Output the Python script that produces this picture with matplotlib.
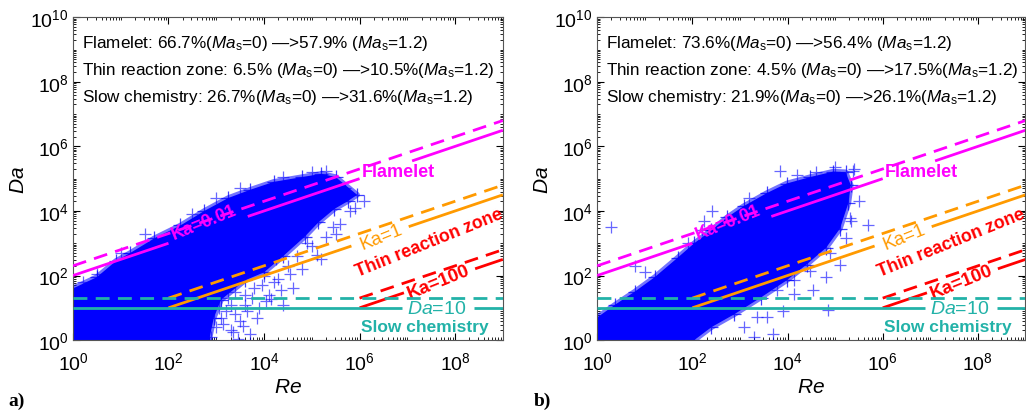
import numpy as np
import matplotlib
matplotlib.use('Agg')
import matplotlib.pyplot as plt
from matplotlib.ticker import LogLocator, FixedLocator, LogFormatterSciNotation, NullFormatter

plt.rcParams['font.family'] = ['Liberation Sans', 'DejaVu Sans']
plt.rcParams['mathtext.fontset'] = 'custom'
plt.rcParams['mathtext.rm'] = 'Liberation Sans'
plt.rcParams['mathtext.it'] = 'Liberation Sans:italic'
plt.rcParams['mathtext.bf'] = 'Liberation Sans:bold'

MAGENTA = '#ff00ff'
ORANGE = '#ff9a00'
RED = '#ff0000'
TEAL = '#22b2a8'
BLUE = '#0000ff'

# ---- dense part of the Re-Da cloud (log10 Re, log10 Da)
cloud_a_logre = [0, 0, 0.5, 0.9, 1.2, 1.7, 2.25, 2.75, 3.25, 3.7, 4.2, 4.8, 5.2, 5.5, 5.95,
                 5.75, 5.47, 5.14, 4.85, 4.4, 4.0, 3.6, 3.1, 2.95, 2.85]
cloud_a_logda = [0, 1.6, 1.95, 2.45, 2.7, 3.15, 3.55, 4.0, 4.4, 4.65, 4.9, 5.05, 5.15, 5.05, 4.5,
                 4.3, 4.06, 3.65, 3.2, 2.6, 2.1, 1.85, 1.25, 0.7, 0]
cloud_b_logre = [0, 0, 0.38, 0.79, 1.21, 1.69, 2.04, 2.4, 2.73, 3.08, 3.56, 3.98, 4.48, 4.96, 5.22,
                 5.33, 5.28, 5.1, 4.81, 4.4, 3.98, 3.44, 2.88, 2.4, 2.04]
cloud_b_logda = [0, 0.7, 1.1, 1.5, 1.95, 2.55, 3.0, 3.4, 3.8, 4.15, 4.55, 4.85, 5.05, 5.22, 5.2,
                 4.8, 4.25, 3.45, 2.86, 2.34, 1.85, 1.32, 0.8, 0.4, 0]

# ---- scattered samples outside the dense part
out_a_logre = [3.3, 3.5, 3.7, 3.2, 3.9, 4.1, 3.8, 4.3, 4.5, 4.7, 5.0, 5.3, 5.6, 5.9, 6.1,
               3.4, 3.0, 2.9, 4.6, 4.4, 3.6, 5.2, 4.0, 3.3, 2.8, 1.5, 2.5, 3.0, 3.5, 4.4,
               5.0, 5.3, 1.0, 0.5, 0.2, 4.15, 3.45, 5.7, 3.1, 3.6, 4.25, 4.9, 5.45, 5.8,
               3.15, 3.25, 3.4, 3.55, 3.75, 3.95, 4.2, 3.05, 3.35, 3.85, 4.05, 4.35,
               4.8, 5.1, 5.5, 4.55, 3.65, 3.1]
out_a_logda = [0.3, 0.6, 0.2, 0.9, 1.0, 1.4, 1.6, 1.9, 2.3, 2.6, 2.9, 3.2, 3.6, 4.1, 4.3,
               1.5, 0.4, 0.1, 1.6, 1.1, 1.1, 2.5, 2.0, 1.1, 1.2, 3.3, 3.9, 4.4, 4.7, 5.05,
               5.2, 5.25, 2.7, 2.05, 1.8, 1.27, 0.05, 4.7, 0.7, 1.4, 2.5, 3.0, 3.5, 4.0,
               0.5, 1.3, 0.8, 0.45, 1.3, 1.7, 1.8, 1.0, 0.25, 0.7, 1.2, 1.55,
               2.2, 2.65, 3.3, 2.05, 0.9, 1.55]
out_b_logre = [0.3, 0.79, 2.25, 2.42, 3.85, 5.38, 3.56, 3.35, 3.7, 3.08, 4.13, 4.54, 4.81, 5.1,
               5.23, 5.31, 4.48, 4.13, 3.77, 2.94, 2.6, 1.69, 1.56, 3.29, 5.69, 5.33, 4.85,
               4.2, 5.0, 5.4, 3.9, 2.0, 1.2, 4.0, 4.9, 5.5, 3.0, 1.0, 1.9, 2.2, 3.2, 4.6]
out_b_logda = [3.5, 2.3, 3.7, 4.0, 5.23, 5.23, 0.71, 0.71, 0.18, 0.4, 1.42, 1.54, 1.94, 2.34,
               3.17, 3.78, 2.15, 1.85, 1.54, 1.32, 1.63, 0.71, 0.18, 0.09, 3.57, 3.69, 0.92,
               5.1, 5.35, 5.3, 0.9, 0.4, 0.3, 2.6, 2.7, 4.3, 2.2, 2.1, 3.0, 3.4, 4.4, 5.2]

# ---- regime lines: segments (Re, Da) as drawn, gaps left for the labels
ka001_solid = [([1, 1e2], [1e2, 1e3]), ([4.57e3, 1e6], [6.76e3, 1e5]), ([1.26e7, 1e9], [3.55e5, 3.16e6])]
ka001_dash = [([1, 1e9], [2e2, 6.32e6])]
ka1_solid = [([1e2, 6.76e5], [10, 822]), ([1.07e7, 1e9], [3.27e3, 3.16e4])]
ka1_dash = [([1e2, 1e9], [20, 6.32e4])]
ka100_solid = [([1e6, 8.5e6], [10, 29.2]), ([2.63e8, 1e9], [162, 316])]
ka100_dash = [([1e6, 1e9], [20, 632])]
da10_solid = [([1, 7.6e6], [10, 10]), ([2.5e8, 1e9], [10, 10])]
da20_dash = [([1, 1e9], [20, 20])]

texts_a = ['Flamelet: 66.7%($\\mathit{Ma}_\\mathrm{s}$=0) \u2014>57.9% ($\\mathit{Ma}_\\mathrm{s}$=1.2)',
           'Thin reaction zone: 6.5% ($\\mathit{Ma}_\\mathrm{s}$=0) \u2014>10.5%($\\mathit{Ma}_\\mathrm{s}$=1.2)',
           'Slow chemistry: 26.7%($\\mathit{Ma}_\\mathrm{s}$=0) \u2014>31.6%($\\mathit{Ma}_\\mathrm{s}$=1.2)']
texts_b = ['Flamelet: 73.6%($\\mathit{Ma}_\\mathrm{s}$=0) \u2014>56.4% ($\\mathit{Ma}_\\mathrm{s}$=1.2)',
           'Thin reaction zone: 4.5% ($\\mathit{Ma}_\\mathrm{s}$=0) \u2014>17.5%($\\mathit{Ma}_\\mathrm{s}$=1.2)',
           'Slow chemistry: 21.9%($\\mathit{Ma}_\\mathrm{s}$=0) \u2014>26.1%($\\mathit{Ma}_\\mathrm{s}$=1.2)']


def draw_lines(ax, segs, color, ls):
    for re, da in segs:
        ax.plot(re, da, color=color, lw=2.0, ls=ls, dashes=(5, 3) if ls == '--' else (None, None),
                zorder=4 if ls == '-' else 5, solid_capstyle='butt')


def panel(ax, c_re, c_da, o_re, o_da, texts):
    c_re = 10.0 ** np.array(c_re)
    c_da = 10.0 ** np.array(c_da)
    o_re = 10.0 ** np.array(o_re)
    o_da = 10.0 ** np.array(o_da)
    # solid core, a thin soft fringe around it, then the crosses
    ax.fill(c_re, c_da, color=BLUE, lw=0, zorder=2)
    ax.fill(c_re, c_da, fill=False, edgecolor=BLUE, lw=4, alpha=0.55, joinstyle='round', zorder=2)
    ax.plot(c_re, c_da, '+', color=BLUE, ms=10, mew=0.9, alpha=0.75, zorder=2)
    ax.plot(o_re, o_da, '+', color=BLUE, ms=9, mew=0.9, alpha=0.6, zorder=2)

    draw_lines(ax, ka001_solid, MAGENTA, '-')
    draw_lines(ax, ka001_dash, MAGENTA, '--')
    draw_lines(ax, ka1_solid, ORANGE, '-')
    draw_lines(ax, ka1_dash, ORANGE, '--')
    draw_lines(ax, ka100_solid, RED, '-')
    draw_lines(ax, ka100_dash, RED, '--')
    draw_lines(ax, da10_solid, TEAL, '-')
    draw_lines(ax, da20_dash, TEAL, '--')

    ax.text(10**2.74, 10**3.65, 'Ka=0.01', color=MAGENTA, fontsize=13, fontweight='bold',
            rotation=22, ha='center', va='center', zorder=4.5)
    ax.text(10**6.05, 10**5.23, 'Flamelet', color=MAGENTA, fontsize=13, fontweight='bold',
            ha='left', va='center', zorder=4.5)
    ax.text(10**6.46, 10**3.22, 'Ka=1', color=ORANGE, fontsize=13.5,
            rotation=22, ha='center', va='center', zorder=4.5)
    ax.text(10**7.45, 10**3.03, 'Thin reaction zone', color=RED, fontsize=12.8, fontweight='bold',
            rotation=22, ha='center', va='center', zorder=4.5)
    ax.text(10**7.66, 10**1.83, 'Ka=100', color=RED, fontsize=13.5, fontweight='bold',
            rotation=22, ha='center', va='center', zorder=4.5)
    ax.text(10**7.62, 10**0.98, '$\\mathit{Da}$=10', color=TEAL, fontsize=14,
            ha='center', va='center', zorder=4.5)
    ax.text(10**7.37, 10**0.43, 'Slow chemistry', color=TEAL, fontsize=12.5, fontweight='bold',
            ha='center', va='center', zorder=4.5)

    for i, t in enumerate(texts):
        ax.text(0.021, 0.923 - i * 0.084, t, transform=ax.transAxes, fontsize=12.3,
                ha='left', va='center', zorder=6)

    ax.set_xscale('log')
    ax.set_yscale('log')
    ax.set_xlim(1, 1e9)
    ax.set_ylim(1, 1e10)
    ax.xaxis.set_major_locator(FixedLocator([1, 1e2, 1e4, 1e6, 1e8]))
    ax.yaxis.set_major_locator(FixedLocator([1, 1e2, 1e4, 1e6, 1e8, 1e10]))
    for axis in (ax.xaxis, ax.yaxis):
        axis.set_major_formatter(LogFormatterSciNotation())
        axis.set_minor_locator(LogLocator(base=10, subs=np.arange(1, 10), numticks=30))
        axis.set_minor_formatter(NullFormatter())
    ax.tick_params(which='both', direction='in', top=True, right=True, labelsize=14)
    ax.tick_params(axis='x', pad=8)
    ax.tick_params(axis='y', pad=3)
    ax.tick_params(which='major', length=5, width=0.8)
    ax.tick_params(which='minor', length=2.5, width=0.6)
    for s in ax.spines.values():
        s.set_color('#555555')
        s.set_linewidth(0.8)
    ax.set_xlabel('$\\mathit{Re}$', fontsize=15, labelpad=3)
    ax.set_ylabel('$\\mathit{Da}$', fontsize=15, labelpad=2)


fig = plt.figure(figsize=(10.26, 4.14), dpi=100)
ax1 = fig.add_axes([0.0711, 0.176, 0.419, 0.780])
ax2 = fig.add_axes([0.582, 0.176, 0.4175, 0.780])
panel(ax1, cloud_a_logre, cloud_a_logda, out_a_logre, out_a_logda, texts_a)
panel(ax2, cloud_b_logre, cloud_b_logda, out_b_logre, out_b_logda, texts_b)

fig.text(8 / 1026, 1 - 401 / 414, 'a)', family='Liberation Serif', fontweight='bold',
         fontsize=14, ha='left', va='center')
fig.text(534 / 1026, 1 - 401 / 414, 'b)', family='Liberation Serif', fontweight='bold',
         fontsize=14, ha='left', va='center')

fig.savefig('out.png', dpi=100)
